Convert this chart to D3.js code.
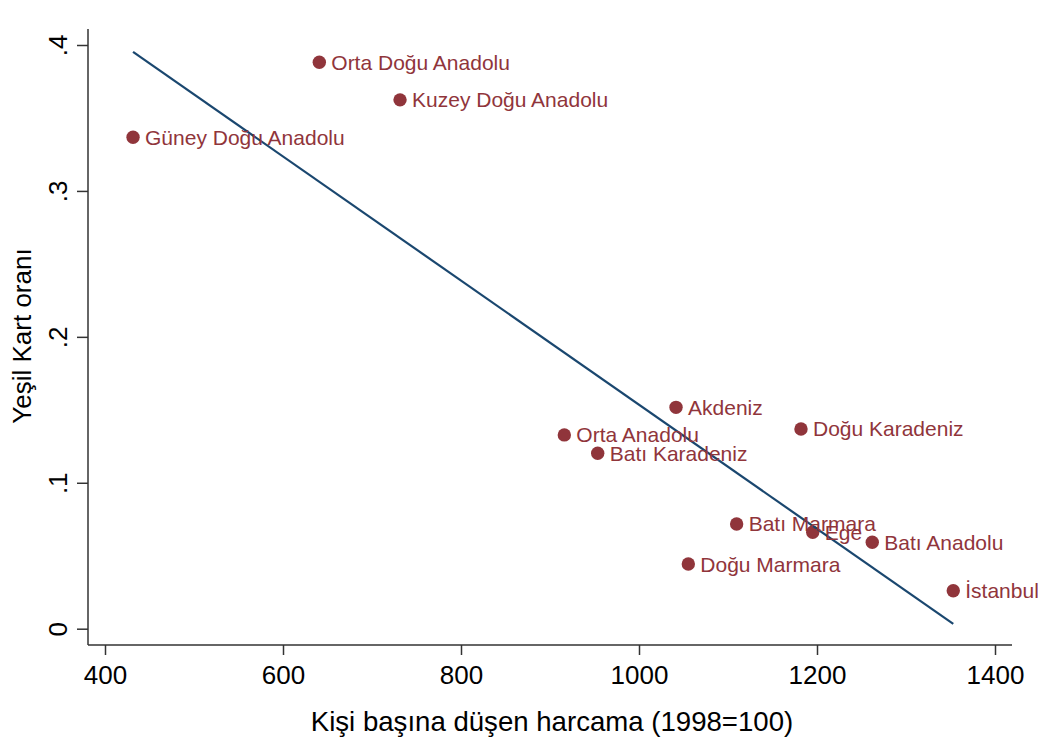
<!DOCTYPE html>
<html>
<head>
<meta charset="utf-8">
<script src="https://cdn.jsdelivr.net/npm/d3@7"></script>
<style>
  body { margin: 0; background: #fff; }
  text { font-family: "Liberation Sans", Arial, sans-serif; }
</style>
</head>
<body>
<div id="chart"></div>
<script>
const width = 1038;
const height = 744;

// regions
const regions = ["Orta Doğu Anadolu", "Kuzey Doğu Anadolu", "Güney Doğu Anadolu", "Akdeniz",
  "Orta Anadolu", "Batı Karadeniz", "Doğu Karadeniz", "Batı Marmara", "Ege",
  "Batı Anadolu", "Doğu Marmara", "İstanbul"];
const spending = [640.8, 731.5, 431.5, 1041.6, 916.1, 953.6, 1182, 1109.7, 1195.2, 1262.1, 1055.4, 1353.1];
const greenCard = [0.3882, 0.3624, 0.3368, 0.1517, 0.1328, 0.1202, 0.1369, 0.0718, 0.0661, 0.0592, 0.0443, 0.026];

// fitted line end points
const fitX = [431.5, 1353.1];
const fitY = [0.3953, 0.0033];

const xTicks = [400, 600, 800, 1000, 1200, 1400];
const yTicks = [0, 0.1, 0.2, 0.3, 0.4];

const markerColor = "#90353b";
const lineColor = "#1a476f";
const axisColor = "#333";

var svg = d3.select("#chart").append("svg")
  .attr("width", width)
  .attr("height", height);

var x = d3.scaleLinear().domain([400, 1400]).range([105, 995]);
var y = d3.scaleLinear().domain([0, 0.4]).range([628.7, 45]);

const plotLeft = 88, plotBottom = 645, plotRight = 1012, plotTop = 29;

// spines
svg.append("line")
  .attr("x1", plotLeft).attr("x2", plotLeft).attr("y1", plotTop).attr("y2", plotBottom)
  .style("stroke", axisColor).style("stroke-width", 1.5);
svg.append("line")
  .attr("x1", plotLeft).attr("x2", plotRight).attr("y1", plotBottom).attr("y2", plotBottom)
  .style("stroke", axisColor).style("stroke-width", 1.5);

// x axis
var xAxis = svg.append("g")
  .attr("transform", "translate(0," + plotBottom + ")")
  .call(d3.axisBottom(x).tickValues(xTicks).tickSize(10).tickFormat(d3.format("d")));
xAxis.select(".domain").remove();
xAxis.selectAll("line").style("stroke", axisColor).style("stroke-width", 1.5);
xAxis.selectAll("text")
  .attr("y", 39).attr("dy", 0)
  .style("font-size", "26px").style("fill", "#000");

// y axis, labels like .1 .2 and turned
var yAxis = svg.append("g")
  .attr("transform", "translate(" + plotLeft + ",0)")
  .call(d3.axisLeft(y).tickValues(yTicks).tickSize(11)
    .tickFormat((d) => {
      return d === 0 ? "0" : d3.format(".1f")(d).replace(/^0/, "")
    }));
yAxis.select(".domain").remove();
yAxis.selectAll("line").style("stroke", axisColor).style("stroke-width", 1.5);
yAxis.selectAll("text")
  .attr("x", 0).attr("dy", 0)
  .attr("transform", "translate(-21,0) rotate(-90)")
  .attr("text-anchor", "middle")
  .style("font-size", "26px").style("fill", "#000");

// axis titles
svg.append("text")
  .attr("x", 552).attr("y", 731)
  .attr("text-anchor", "middle")
  .style("font-size", "27.6px")
  .text("Kişi başına düşen harcama (1998=100)");

svg.append("text")
  .attr("transform", "translate(31,336) rotate(-90)")
  .attr("text-anchor", "middle")
  .style("font-size", "26px")
  .text("Yeşil Kart oranı");

// points
var pts = regions.map((r, i) => {
  return { name: r, x: spending[i], y: greenCard[i] }
});

svg.selectAll("circle").data(pts).enter().append("circle")
  .attr("cx", (d) => x(d.x))
  .attr("cy", (d) => y(d.y))
  .attr("r", 6.7)
  .style("fill", markerColor);

// fit line
svg.append("line")
  .attr("x1", x(fitX[0])).attr("y1", y(fitY[0]))
  .attr("x2", x(fitX[1])).attr("y2", y(fitY[1]))
  .style("stroke", lineColor).style("stroke-width", 2.2);

svg.selectAll(".lbl").data(pts).enter().append("text")
  .attr("class", "lbl")
  .attr("x", (d) => x(d.x) + 12)
  .attr("y", (d) => y(d.y))
  .attr("dy", "0.36em")
  .style("font-size", "21px")
  .style("fill", markerColor)
  .text((d) => d.name);
</script>
</body>
</html>
